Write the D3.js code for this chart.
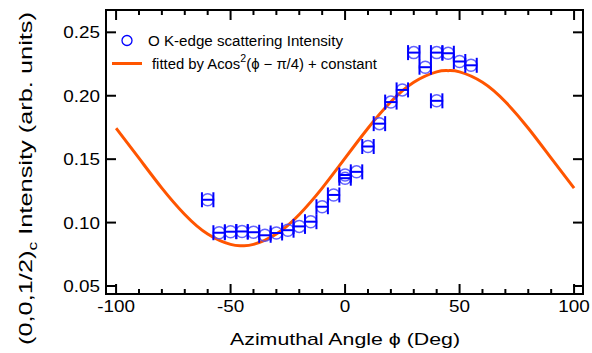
<!DOCTYPE html>
<html>
<head>
<meta charset="utf-8">
<script src="https://cdn.jsdelivr.net/npm/d3@7"></script>
<style>
  body { margin: 0; background: #fff; }
  text { font-family: "Liberation Sans", Arial, sans-serif; fill: #000; }
</style>
</head>
<body>
<svg id="chart"></svg>
<script>
  // measured points (azimuthal angle, intensity)
  const phi = [-60, -55, -50, -45, -40, -35, -30, -25, -20, -15, -10, -5, 0, 0, 5, 10, 15, 20, 25, 30, 35, 40, 40, 45, 50, 55];
  const intensity = [0.118, 0.092, 0.0928, 0.093, 0.0924, 0.090, 0.0918, 0.094, 0.097, 0.1007, 0.1125, 0.1218, 0.135, 0.1375, 0.140, 0.160, 0.178, 0.195, 0.2046, 0.234, 0.2225, 0.234, 0.196, 0.2335, 0.227, 0.224];
  const phiErr = 2.5;

  // fitted curve
  const fitPhi = [-100, -90, -80, -70, -60, -50, -45, -40, -30, -20, -10, 0, 10, 20, 30, 40, 45, 50, 60, 70, 80, 90, 100];
  const fitVal = [0.1744, 0.1508, 0.1272, 0.1064, 0.0910, 0.0828, 0.0818, 0.0828, 0.0910, 0.1064, 0.1272, 0.1508, 0.1744, 0.1952, 0.2106, 0.2188, 0.2198, 0.2188, 0.2106, 0.1952, 0.1744, 0.1508, 0.1272];

  const xTicks = [-100, -50, 0, 50, 100];
  const yTicks = [0.05, 0.10, 0.15, 0.20, 0.25];

  width = 592;
  height = 353;
  const m = {left: 106, top: 10, right: 583, bottom: 294};

  var svg = d3.select("#chart").attr("width", width).attr("height", height);

  const x = d3.scaleLinear().domain([-104.4, 103.9]).range([m.left, m.right]);
  const y = d3.scaleLinear().domain([0.0437, 0.2676]).range([m.bottom, m.top]);

  const minor = d3.range(-100, 101, 10).filter(d => d % 50 != 0);

  // ticks, inside on all four sides
  const tk = svg.append("g").attr("stroke", "#000").attr("stroke-width", 2);
  [m.bottom, m.top].forEach(base => {
    const dir = base == m.bottom ? -1 : 1;
    tk.selectAll(null).data(xTicks).join("line")
      .attr("x1", d => x(d)).attr("x2", d => x(d))
      .attr("y1", base).attr("y2", base + dir * 10);
    tk.selectAll(null).data(minor).join("line")
      .attr("x1", d => x(d)).attr("x2", d => x(d))
      .attr("y1", base).attr("y2", base + dir * 5);
  });
  [m.left, m.right].forEach(base => {
    const dir = base == m.left ? 1 : -1;
    tk.selectAll(null).data(yTicks).join("line")
      .attr("y1", d => y(d)).attr("y2", d => y(d))
      .attr("x1", base).attr("x2", base + dir * 10);
  });

  svg.append("rect")
    .attr("x", m.left).attr("y", m.top)
    .attr("width", m.right - m.left).attr("height", m.bottom - m.top)
    .attr("fill", "none").attr("stroke", "#000").attr("stroke-width", 2);

  // tick labels look horizontally stretched in the reference
  svg.append("g").selectAll("text").data(xTicks).join("text")
    .attr("transform", d => `translate(${x(d)},312) scale(1.18,1)`)
    .attr("text-anchor", "middle").attr("font-size", 16)
    .text(d => d);

  svg.append("g").selectAll("text").data(yTicks).join("text")
    .attr("transform", d => `translate(100,${y(d) + 6}) scale(1.18,1)`)
    .attr("text-anchor", "end").attr("font-size", 16)
    .text(d => d.toFixed(2));

  svg.append("text")
    .attr("x", 230).attr("y", 345).attr("font-size", 17)
    .attr("textLength", 230).attr("lengthAdjust", "spacingAndGlyphs")
    .text("Azimuthal Angle \u03d5 (Deg)");

  var yl = svg.append("text")
    .attr("transform", "translate(32,345) rotate(-90)")
    .attr("font-size", 17.5)
    .attr("textLength", 333).attr("lengthAdjust", "spacingAndGlyphs");
  yl.append("tspan").text("(0,0,1/2)");
  yl.append("tspan").attr("font-size", 12).attr("dy", 5).text("c");
  yl.append("tspan").attr("dy", -5).text(" Intensity (arb. units)");

  // fit line
  const line = d3.line().x(d => x(d[0])).y(d => y(d[1])).curve(d3.curveNatural);
  svg.append("path")
    .datum(fitPhi.map((p, i) => [p, fitVal[i]]))
    .attr("d", line)
    .attr("fill", "none").attr("stroke", "#ff5500").attr("stroke-width", 3);

  // data points with horizontal error bars
  const pts = phi.map((p, i) => ({p: p, v: intensity[i]}));
  var g = svg.append("g");
  g.selectAll("circle").data(pts).join("circle")
    .attr("cx", d => x(d.p)).attr("cy", d => y(d.v)).attr("r", 6)
    .attr("fill", "none").attr("stroke", "#4646ff").attr("stroke-width", 1.5)
    .attr("stroke-opacity", 0.85);
  const eb = g.append("g").attr("stroke", "#0000ff").attr("stroke-width", 2);
  eb.selectAll(null).data(pts).join("line")
    .attr("x1", d => x(d.p - phiErr)).attr("x2", d => x(d.p + phiErr))
    .attr("y1", d => y(d.v)).attr("y2", d => y(d.v));
  [-1, 1].forEach(s => {
    eb.selectAll(null).data(pts).join("line")
      .attr("x1", d => x(d.p + s * phiErr)).attr("x2", d => x(d.p + s * phiErr))
      .attr("y1", d => y(d.v) - 7.5).attr("y2", d => y(d.v) + 7.5);
  });

  // legend
  var lg = svg.append("g");
  lg.append("circle").attr("cx", 127).attr("cy", 40.5).attr("r", 5)
    .attr("fill", "none").attr("stroke", "#0000ff").attr("stroke-width", 1.3);
  lg.append("text").attr("x", 148).attr("y", 46).attr("font-size", 14)
    .attr("textLength", 195).attr("lengthAdjust", "spacingAndGlyphs")
    .text("O K-edge scattering Intensity");
  lg.append("line").attr("x1", 112).attr("x2", 142).attr("y1", 63.5).attr("y2", 63.5)
    .attr("stroke", "#ff5500").attr("stroke-width", 3);
  var lt = lg.append("text").attr("x", 152).attr("y", 69).attr("font-size", 14)
    .attr("textLength", 225).attr("lengthAdjust", "spacingAndGlyphs");
  lt.append("tspan").text("fitted by Acos");
  lt.append("tspan").attr("font-size", 10).attr("dy", -7).text("2");
  lt.append("tspan").attr("dy", 7).text("(\u03d5 \u2212 \u03c0/4) + constant");
</script>
</body>
</html>
